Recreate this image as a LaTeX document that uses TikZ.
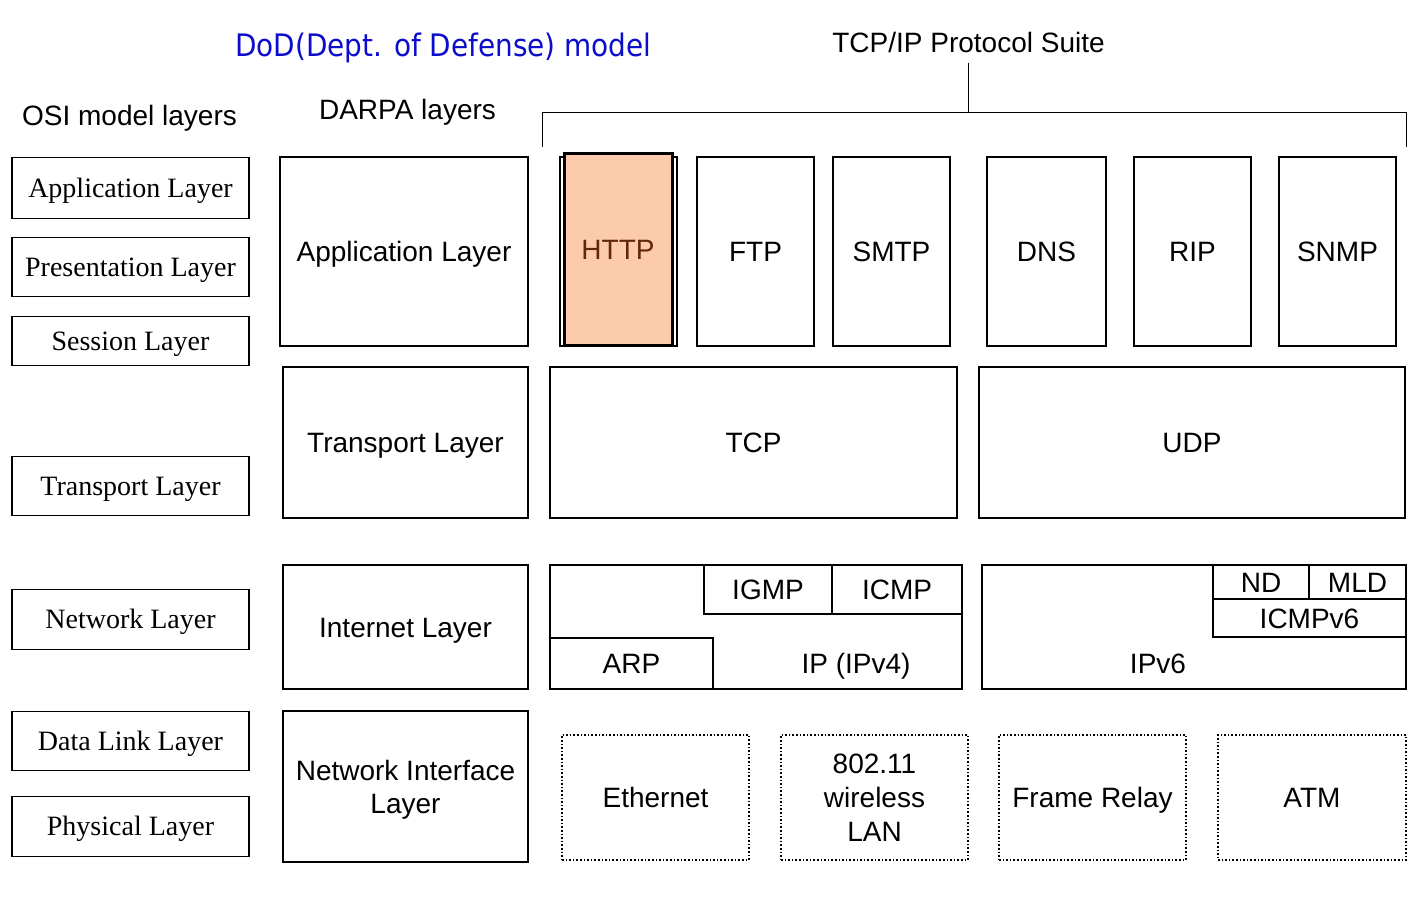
\documentclass[tikz,border=0pt]{standalone}
\usepackage{fontspec}
\setmainfont{Liberation Sans}
\newfontfamily\timesfont{Liberation Serif}
\newfontfamily\dodfont{DejaVu Sans Condensed}

\definecolor{httpfill}{RGB}{252,204,170}
\definecolor{httptext}{RGB}{100,38,10}
\definecolor{dodblue}{RGB}{12,12,204}

\tikzstyle{caption} = [inner sep=2pt, text height=10.1pt, text depth=0pt, font=\fontsize{14}{17}\selectfont]
\tikzstyle{osibox} = [draw, thick, rectangle, inner sep=0pt, text height=9.3pt, text depth=0pt, minimum width=118.5pt, font=\timesfont\fontsize{14}{17}\selectfont]
\tikzstyle{plainbox} = [draw, thick, rectangle, inner sep=0pt, align=center, font=\fontsize{14}{16.5}\selectfont]
\tikzstyle{layerbox} = [plainbox, text height=10.1pt, text depth=0pt]
\tikzstyle{protobox} = [layerbox, minimum width=58.5pt, minimum height=94.5pt]
\tikzstyle{linkbox} = [plainbox, densely dotted, line width=1.1pt, minimum width=93.5pt, minimum height=62.5pt, font=\fontsize{14}{17}\selectfont]

\begin{document}
\begin{tikzpicture}[x=0.5pt, y=-0.5pt]
	\useasboundingbox (0,0) rectangle (1420,902);

	\node[caption, text=dodblue, text height=11.3pt, font=\dodfont\fontsize{15.5}{18}\selectfont] (dod) at (443.5,45) {DoD(Dept. of Defense) model};
	\node[caption, inner ysep=5pt] (suite) at (968.5,42) {TCP/IP Protocol Suite};
	\node[caption] (ostitle) at (129.5,115) {OSI model layers};
	\node[caption] (darpatitle) at (407.5,109) {DARPA layers};

	\coordinate (bl) at (542,147);
	\coordinate (br) at (1406,147);
	\coordinate (bm) at (968.5,112);
	\draw (suite.south) -- (bm);
	\draw (bl) -- (bl |- bm) -- (br |- bm) -- (br);

	\node[osibox, minimum height=30.5pt] (osiapp) at (130.5,188) {Application Layer};
	\node[osibox, minimum height=29.5pt] (osipres) at (130.5,267) {Presentation Layer};
	\node[osibox, minimum height=24.5pt] (osisess) at (130.5,341) {Session Layer};
	\node[osibox, minimum height=29.5pt] (ositrans) at (130.5,486) {Transport Layer};
	\node[osibox, minimum height=30pt] (osinet) at (130.5,619.5) {Network Layer};
	\node[osibox, minimum height=29.5pt] (osilink) at (130.5,741) {Data Link Layer};
	\node[osibox, minimum height=30pt] (osiphys) at (130.5,826.5) {Physical Layer};

	\node[layerbox, minimum width=124pt, minimum height=94.5pt] (dapp) at (404,251.5) {Application Layer};
	\node[layerbox, minimum width=122.5pt, minimum height=75.5pt] (dtrans) at (405.5,442.5) {Transport Layer};
	\node[layerbox, minimum width=122.5pt, minimum height=62pt] (dinet) at (405.5,627) {Internet Layer};
	\node[plainbox, text depth=0pt, minimum width=122.5pt, minimum height=75.5pt] (dnif) at (405.5,786.5) {Network Interface\\Layer};

	\node[protobox] (httpback) at (618.5,251.5) {};
	\node[protobox, fill=httpfill, line width=1.5pt, minimum width=54pt, minimum height=96pt, text=httptext] (http) at (618,249) {HTTP};
	\node[protobox] (ftp) at (755.5,251.5) {FTP};
	\node[protobox] (smtp) at (891.5,251.5) {SMTP};
	\node[protobox, minimum width=59.5pt] (dns) at (1046.5,251.5) {DNS};
	\node[protobox] (rip) at (1192.5,251.5) {RIP};
	\node[protobox] (snmp) at (1337.5,251.5) {SNMP};

	\node[layerbox, minimum width=203.5pt, minimum height=75.5pt] (tcp) at (753.5,442.5) {TCP};
	\node[layerbox, minimum width=213pt, minimum height=75.5pt] (udp) at (1192,442.5) {UDP};

	\node[layerbox, minimum width=206pt, minimum height=62pt] (ipv4) at (756,627) {};
	\node[caption] (ipv4txt) at (856,663) {IP (IPv4)};
	\node[layerbox, minimum width=64pt, minimum height=24.5pt] (igmp) at (768,589.5) {IGMP};
	\node[layerbox, minimum width=65pt, minimum height=24.5pt] (icmp) at (897,589.5) {ICMP};
	\node[layerbox, minimum width=81.5pt, minimum height=25.5pt] (arp) at (631.5,663.5) {ARP};

	\node[layerbox, minimum width=212pt, minimum height=62pt] (ipv6) at (1194,627) {};
	\node[caption] (ipv6txt) at (1158,663) {IPv6};
	\node[layerbox, minimum width=48pt, minimum height=17pt] (nd) at (1261,582) {ND};
	\node[layerbox, minimum width=48.5pt, minimum height=17pt] (mld) at (1357.5,582) {MLD};
	\node[layerbox, minimum width=96.5pt, minimum height=19pt] (icmpsix) at (1309.5,618) {ICMPv6};

	\node[linkbox, text height=10.1pt, text depth=0pt] (eth) at (655.5,797.5) {Ethernet};
	\node[linkbox, text depth=0pt] (wlan) at (874.5,797.5) {802.11\\wireless\\LAN};
	\node[linkbox, text height=10.1pt, text depth=0pt] (frame) at (1092.5,797.5) {Frame Relay};
	\node[linkbox, text height=10.1pt, text depth=0pt, minimum width=94pt] (atm) at (1312,797.5) {ATM};
\end{tikzpicture}
\end{document}
